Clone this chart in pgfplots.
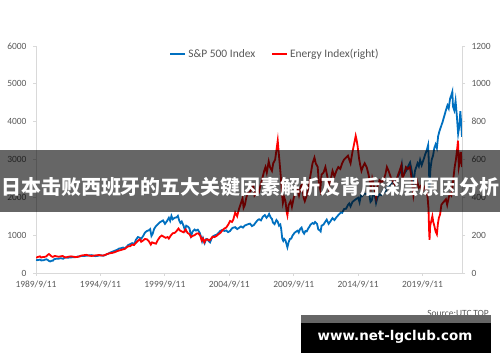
\documentclass[border=0pt]{standalone}
\usepackage{pgfplots}
\pgfplotsset{compat=1.18}
\usepackage{fontspec}
\setmainfont{Carlito}
\newfontfamily\cjk{Noto Sans CJK SC}
\newfontfamily\wm{DejaVu Sans}
\definecolor{spblue}{RGB}{0,112,192}
\definecolor{tickgray}{RGB}{89,89,89}
\definecolor{axgray}{RGB}{217,217,217}
\definecolor{stripgray}{RGB}{102,102,102}
\begin{document}
\begin{tikzpicture}[x=1bp,y=1bp]
\path[use as bounding box, fill=white] (0bp,0bp) rectangle (500bp,362bp);
\pgfplotsset{
  common/.style={
    at={(36bp,89bp)}, anchor=south west,
    width=426bp, height=227bp, scale only axis,
    xmin=1989.69, xmax=2022.75,
    axis line style={axgray, line width=0.8bp},
    tick style={axgray, line width=0.8bp},
    major tick length=3bp, tick align=outside,
    ticklabel style={font=\fontsize{9.5}{11}\selectfont, text=tickgray},
    /pgf/number format/1000 sep={},
    /pgf/number format/assume math mode=true,
  }
}
\begin{axis}[common,
  ymin=0, ymax=6000,
  axis y line*=left, axis x line*=bottom,
  ytick={0,1000,2000,3000,4000,5000,6000},
  xtick={1989.69,1994.69,1999.69,2004.69,2009.69,2014.69,2019.69},
  xticklabels={1989/9/11,1994/9/11,1999/9/11,2004/9/11,2009/9/11,2014/9/11,2019/9/11},
  yticklabel style={xshift=-3bp},
  xticklabel style={yshift=-1bp},
]
\addplot[spblue, line width=1.8bp] coordinates {
(1989.70,349)(1989.80,340)(1989.90,345)(1990.00,353)(1990.10,330)(1990.20,338)(1990.30,340)(1990.40,355)(1990.50,362)(1990.60,345)
(1990.70,318)(1990.80,305)(1990.90,322)(1991.00,326)(1991.10,365)(1991.20,372)(1991.30,378)(1991.40,375)(1991.50,383)(1991.60,390)
(1991.70,385)(1991.80,376)(1991.90,402)(1992.00,410)(1992.10,406)(1992.20,404)(1992.30,412)(1992.40,410)(1992.50,417)(1992.60,414)
(1992.70,418)(1992.80,422)(1992.90,433)(1993.00,438)(1993.20,448)(1993.40,450)(1993.60,456)(1993.80,465)(1994.00,472)(1994.15,458)
(1994.30,446)(1994.45,452)(1994.60,462)(1994.75,468)(1994.90,455)(1995.00,465)(1995.15,488)(1995.30,512)(1995.45,540)(1995.60,560)
(1995.75,582)(1995.90,602)(1996.00,615)(1996.15,648)(1996.30,655)(1996.45,672)(1996.55,640)(1996.70,688)(1996.85,740)(1997.00,765)
(1997.15,790)(1997.30,760)(1997.45,880)(1997.60,950)(1997.75,930)(1997.85,905)(1998.00,975)(1998.15,1070)(1998.30,1110)(1998.45,1130)
(1998.55,1160)(1998.65,980)(1998.75,1040)(1998.85,1160)(1999.00,1240)(1999.15,1290)(1999.30,1340)(1999.45,1370)(1999.55,1390)(1999.70,1300)
(1999.85,1370)(2000.00,1460)(2000.10,1380)(2000.20,1510)(2000.30,1420)(2000.45,1460)(2000.60,1470)(2000.70,1510)(2000.80,1390)(2000.90,1320)
(2001.00,1360)(2001.15,1240)(2001.25,1130)(2001.35,1250)(2001.50,1220)(2001.60,1180)(2001.72,980)(2001.85,1100)(2002.00,1150)(2002.10,1120)
(2002.25,1145)(2002.40,1060)(2002.50,950)(2002.58,840)(2002.65,920)(2002.78,790)(2002.90,900)(2003.00,890)(2003.10,840)(2003.20,810)
(2003.30,900)(2003.40,960)(2003.55,995)(2003.70,1010)(2003.85,1060)(2004.00,1115)(2004.15,1140)(2004.30,1110)(2004.45,1125)(2004.60,1080)
(2004.75,1110)(2004.90,1180)(2005.00,1200)(2005.15,1210)(2005.30,1160)(2005.45,1195)(2005.60,1230)(2005.75,1200)(2005.90,1255)(2006.00,1270)
(2006.15,1290)(2006.30,1305)(2006.45,1240)(2006.60,1270)(2006.75,1340)(2006.90,1400)(2007.00,1420)(2007.15,1390)(2007.30,1490)(2007.45,1530)
(2007.58,1460)(2007.70,1510)(2007.78,1560)(2007.90,1470)(2008.00,1430)(2008.08,1330)(2008.20,1290)(2008.35,1400)(2008.45,1360)(2008.55,1250)
(2008.65,1280)(2008.72,1160)(2008.80,910)(2008.88,850)(2008.95,900)(2009.05,860)(2009.15,740)(2009.20,680)(2009.30,820)(2009.40,900)
(2009.50,910)(2009.60,990)(2009.75,1060)(2009.90,1100)(2010.00,1120)(2010.08,1070)(2010.20,1170)(2010.30,1200)(2010.40,1090)(2010.50,1040)
(2010.60,1110)(2010.70,1100)(2010.80,1170)(2010.90,1220)(2011.00,1280)(2011.15,1320)(2011.25,1300)(2011.35,1350)(2011.50,1300)(2011.60,1150)
(2011.70,1130)(2011.78,1100)(2011.85,1250)(2012.00,1280)(2012.15,1360)(2012.25,1410)(2012.40,1300)(2012.55,1370)(2012.70,1450)(2012.85,1400)
(2013.00,1470)(2013.15,1530)(2013.35,1600)(2013.45,1590)(2013.60,1690)(2013.75,1700)(2013.90,1800)(2014.00,1840)(2014.10,1760)(2014.25,1880)
(2014.40,1920)(2014.55,1960)(2014.70,1990)(2014.80,1870)(2014.90,2050)(2015.00,2030)(2015.15,2100)(2015.30,2090)(2015.45,2110)(2015.55,2080)
(2015.65,1880)(2015.75,1920)(2015.85,2090)(2016.00,2020)(2016.08,1850)(2016.20,2010)(2016.35,2080)(2016.50,2060)(2016.60,2170)(2016.80,2130)
(2016.90,2250)(2017.00,2270)(2017.20,2360)(2017.40,2400)(2017.55,2450)(2017.70,2500)(2017.85,2590)(2018.00,2700)(2018.08,2860)(2018.15,2600)
(2018.30,2640)(2018.45,2720)(2018.60,2840)(2018.72,2920)(2018.85,2700)(2018.98,2350)(2019.10,2700)(2019.30,2900)(2019.40,2820)(2019.50,2990)
(2019.62,2850)(2019.75,2980)(2019.90,3140)(2020.00,3230)(2020.12,3380)(2020.18,2900)(2020.22,2240)(2020.30,2750)(2020.40,3000)(2020.50,3100)
(2020.60,3300)(2020.70,3400)(2020.80,3300)(2020.90,3620)(2021.00,3750)(2021.10,3850)(2021.25,4000)(2021.40,4180)(2021.50,4300)(2021.62,4430)
(2021.72,4350)(2021.82,4600)(2021.92,4700)(2022.00,4790)(2022.05,4400)(2022.15,4300)(2022.25,4550)(2022.35,4150)(2022.45,3680)(2022.55,3900)
(2022.62,4280)(2022.70,3900)(2022.75,3600)
};
\end{axis}
\begin{axis}[common,
  ymin=0, ymax=1200,
  axis y line*=right, axis x line=none,
  ytick={0,200,400,600,800,1000,1200},
  yticklabel style={xshift=3bp},
  legend columns=2,
  legend style={draw=none, fill=none, at={(0.561,0.965)}, anchor=center,
    font=\fontsize{11.5}{13}\selectfont, text=tickgray,
    /tikz/every even column/.append style={column sep=14bp}},
  legend image code/.code={\draw[#1] (0bp,0bp) -- (15bp,0bp);},
]
\addlegendimage{spblue, line width=1.8bp}
\addlegendentry{S\&P 500 Index}
\addplot[red, line width=1.8bp] coordinates {
(1989.70,80)(1989.80,84)(1989.90,86)(1990.00,88)(1990.10,82)(1990.20,84)(1990.35,85)(1990.50,88)(1990.60,96)(1990.70,100)
(1990.80,94)(1990.90,88)(1991.00,85)(1991.15,90)(1991.30,88)(1991.45,86)(1991.60,88)(1991.75,90)(1991.90,84)(1992.00,82)
(1992.20,86)(1992.40,88)(1992.60,86)(1992.80,84)(1993.00,86)(1993.20,92)(1993.40,94)(1993.60,96)(1993.80,92)(1994.00,90)
(1994.20,92)(1994.40,94)(1994.60,95)(1994.80,92)(1995.00,94)(1995.20,100)(1995.40,104)(1995.60,106)(1995.80,110)(1996.00,116)
(1996.20,120)(1996.40,124)(1996.60,128)(1996.80,140)(1997.00,142)(1997.15,150)(1997.30,148)(1997.45,160)(1997.60,170)(1997.75,178)
(1997.85,165)(1998.00,172)(1998.15,180)(1998.30,178)(1998.45,168)(1998.60,150)(1998.70,162)(1998.85,158)(1999.00,155)(1999.15,175)
(1999.30,190)(1999.45,198)(1999.60,192)(1999.75,186)(1999.90,190)(2000.00,182)(2000.15,198)(2000.30,210)(2000.45,212)(2000.60,222)
(2000.75,235)(2000.85,225)(2001.00,220)(2001.15,215)(2001.30,230)(2001.45,212)(2001.60,205)(2001.72,190)(2001.85,196)(2002.00,200)
(2002.15,208)(2002.30,210)(2002.45,195)(2002.55,172)(2002.65,182)(2002.75,162)(2002.85,175)(2003.00,178)(2003.15,172)(2003.25,180)
(2003.40,192)(2003.55,190)(2003.70,196)(2003.85,205)(2004.00,212)(2004.15,225)(2004.30,235)(2004.45,240)(2004.60,255)(2004.75,275)
(2004.90,270)(2005.00,282)(2005.15,320)(2005.30,300)(2005.45,340)(2005.60,370)(2005.72,395)(2005.80,345)(2005.90,360)(2006.00,395)
(2006.10,420)(2006.25,425)(2006.40,440)(2006.55,460)(2006.65,410)(2006.75,420)(2006.90,440)(2007.00,430)(2007.10,460)(2007.25,500)
(2007.40,540)(2007.50,560)(2007.60,530)(2007.75,590)(2007.85,560)(2008.00,540)(2008.10,580)(2008.25,600)(2008.35,650)(2008.45,700)
(2008.52,640)(2008.60,580)(2008.70,500)(2008.78,420)(2008.85,370)(2008.95,400)(2009.05,380)(2009.15,320)(2009.20,305)(2009.30,360)
(2009.45,380)(2009.55,350)(2009.70,400)(2009.85,430)(2010.00,440)(2010.10,410)(2010.25,460)(2010.35,470)(2010.45,400)(2010.55,380)
(2010.70,410)(2010.85,460)(2011.00,520)(2011.15,580)(2011.30,610)(2011.40,580)(2011.55,560)(2011.65,470)(2011.75,440)(2011.85,520)
(2012.00,530)(2012.15,560)(2012.30,510)(2012.42,450)(2012.55,490)(2012.70,540)(2012.85,510)(2013.00,540)(2013.15,560)(2013.30,550)
(2013.45,580)(2013.60,600)(2013.75,610)(2013.90,620)(2014.00,600)(2014.10,580)(2014.25,640)(2014.40,690)(2014.50,725)(2014.58,700)
(2014.65,670)(2014.75,610)(2014.85,570)(2014.95,540)(2015.05,560)(2015.20,580)(2015.35,560)(2015.50,520)(2015.60,480)(2015.68,450)
(2015.78,500)(2015.88,470)(2016.00,430)(2016.08,400)(2016.20,460)(2016.35,490)(2016.50,480)(2016.65,490)(2016.80,520)(2016.92,560)
(2017.05,540)(2017.20,510)(2017.35,490)(2017.50,470)(2017.65,490)(2017.80,520)(2017.95,550)(2018.05,570)(2018.12,500)(2018.25,520)
(2018.40,560)(2018.55,550)(2018.70,560)(2018.80,520)(2018.90,460)(2018.98,410)(2019.10,460)(2019.25,490)(2019.40,450)(2019.55,460)
(2019.65,430)(2019.75,440)(2019.90,460)(2020.00,440)(2020.08,400)(2020.15,340)(2020.20,220)(2020.23,175)(2020.28,250)(2020.35,270)
(2020.45,300)(2020.52,270)(2020.60,250)(2020.70,220)(2020.80,205)(2020.88,260)(2020.95,290)(2021.05,310)(2021.15,360)(2021.25,370)
(2021.38,380)(2021.50,390)(2021.60,360)(2021.72,400)(2021.82,420)(2021.92,410)(2022.00,450)(2022.08,500)(2022.18,560)(2022.28,600)
(2022.38,660)(2022.44,700)(2022.50,560)(2022.58,590)(2022.66,640)(2022.72,580)(2022.75,560)
};
\addlegendentry{Energy Index(right)}
\end{axis}
% banner overlay
\fill[black, opacity=0.6] (0bp,150bp) rectangle (500bp,212bp);
\node[text=white, font=\cjk\bfseries\fontsize{20}{24}\selectfont, inner sep=0pt] at (250.5bp,175bp) {日本击败西班牙的五大关键因素解析及背后深层原因分析};
% source and watermark
\node[text=tickgray, font=\fontsize{9.5}{11}\selectfont, anchor=east, inner sep=0pt] at (489bp,49bp) {Source:UTC.TOP};
\fill[stripgray] (301bp,39bp) rectangle (491bp,47bp);
\fill[black] (301bp,9bp) rectangle (491bp,39bp);
\node[text=white, font=\wm\bfseries\fontsize{13.5}{15}\selectfont, inner sep=0pt] at (395bp,25bp) {www.net-lgclub.com};
\end{tikzpicture}
\end{document}
